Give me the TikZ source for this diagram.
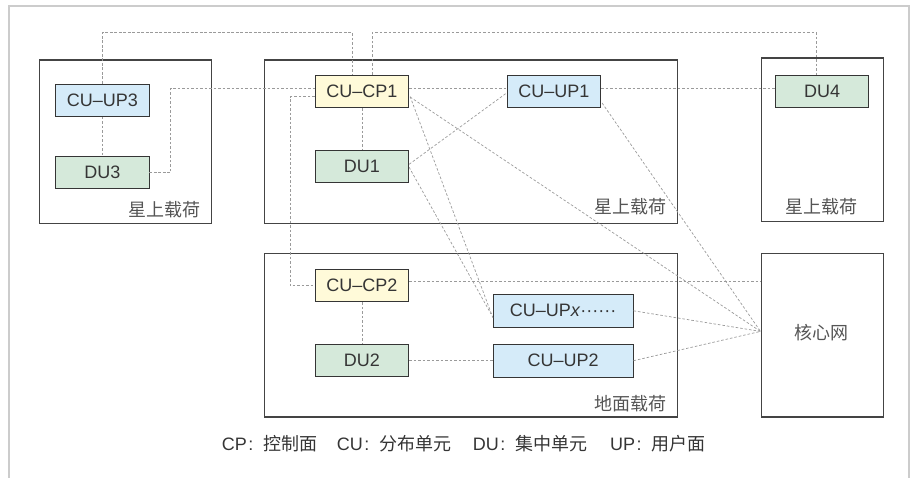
\documentclass[tikz,border=0pt]{standalone}
\usepackage{fontspec}
\setmainfont{Liberation Sans}
\newfontfamily\cjk{Noto Sans CJK SC}
\usetikzlibrary{calc}
\definecolor{upblue}{HTML}{D5EBF9}
\definecolor{cpyellow}{HTML}{FFFAD9}
\definecolor{dugreen}{HTML}{D5E9DA}
\definecolor{inktext}{HTML}{353535}
\definecolor{labeltext}{HTML}{555555}
\definecolor{linkgray}{HTML}{9A9A9A}
\definecolor{framegray}{HTML}{CCCCCC}
\newcommand{\legsep}{\hspace{1.5pt}:\hspace{10pt}}
\tikzset{
  unit/.style={draw=inktext, line width=0.9pt, minimum width=93.3pt, minimum height=32.3pt,
    inner sep=0pt, text=inktext, font=\fontsize{18}{20}\selectfont},
  upbox/.style={unit, fill=upblue},
  cpbox/.style={unit, fill=cpyellow},
  dubox/.style={unit, fill=dugreen},
  widebox/.style={upbox, minimum width=139.7pt, minimum height=33pt},
  payload/.style={draw=labeltext!80!black, line width=1.1pt, inner sep=0pt},
  payloadlabel/.style={text=labeltext, inner sep=0pt, font=\fontsize{18}{20}\selectfont\cjk},
  link/.style={draw=linkgray, line width=0.7pt, dash pattern=on 2.6pt off 1.9pt},
  legend/.style={text=inktext, inner sep=0pt, anchor=west, font=\fontsize{18}{20}\selectfont},
}
\begin{document}
\begin{tikzpicture}[x=1pt, y=-1pt]
  \useasboundingbox (0,0) rectangle (914,478);
  % outer frame, open at the bottom
  \draw[framegray, line width=1.3pt] (9,478) -- (9,6) -- (909,6) -- (909,478);

  % payload containers
  \node[payload, minimum width=171.6pt, minimum height=163.3pt] (sat1) at (125.5,141.7) {};
  \node[payload, minimum width=413.3pt, minimum height=163.3pt] (sat2) at (470.7,141.7) {};
  \node[payload, minimum width=122.3pt, minimum height=163.3pt] (sat3) at (822.2,139.7) {};
  \node[payload, minimum width=413.3pt, minimum height=163.3pt] (ground) at (470.7,335.4) {};
  \node[payload, minimum width=122.3pt, minimum height=163.3pt] (core) at (822.2,335.4) {};

  \node[payloadlabel, anchor=east] (sat1lbl) at (201,210) {星上载荷};
  \node[payloadlabel, anchor=east] (sat2lbl) at (666.7,206.7) {星上载荷};
  \node[payloadlabel] (sat3lbl) at (821.7,206.7) {星上载荷};
  \node[payloadlabel, anchor=east] (groundlbl) at (666.7,403.3) {地面载荷};
  \node[payloadlabel] (corelbl) at (821.7,333) {核心网};

  % functional units
  \node[upbox] (up3) at (102.3,100.2) {CU–UP3};
  \node[dubox] (du3) at (102.3,172.5) {DU3};
  \node[cpbox] (cp1) at (362,91.5) {CU–CP1};
  \node[dubox] (du1) at (362,166.7) {DU1};
  \node[upbox] (up1) at (554,91.5) {CU–UP1};
  \node[dubox] (du4) at (822.2,91.5) {DU4};
  \node[cpbox] (cp2) at (362,285.8) {CU–CP2};
  \node[dubox] (du2) at (362,360.7) {DU2};
  \node[widebox] (upx) at (563.2,310.8) {CU–UP\textit{x}······};
  \node[widebox] (up2) at (563.2,360.7) {CU–UP2};

  % routing points
  \coordinate (topline) at (0,32.7);
  \coordinate (cp1nl) at ($(cp1.north)+(-9.7,0)$);
  \coordinate (cp1nr) at ($(cp1.north)+(10.3,0)$);
  \coordinate (du4n) at ($(du4.north)+(-5.5,0)$);
  \coordinate (corein) at ($(core.west)+(0,-4)$);
  \coordinate (cp2e) at ($(cp2.east)+(0,-4.5)$);

  % links
  \draw[link] (up3.north) -- (up3.north |- topline) -| (cp1nl);
  \draw[link] (cp1nr) -- (cp1nr |- topline) -| (du4n);
  \draw[link] (du3.east) -- ++(21.3,0) |- ($(cp1.west)+(0,-3.2)$);
  \draw[link] ($(cp1.west)+(0,5.2)$) -| ($(cp2.west)+(-24.6,0)$) -- (cp2.west);
  \draw[link] ($(cp1.east)+(0,-3.2)$) -- ($(up1.west)+(0,-3.2)$);
  \draw[link] ($(up1.east)+(0,-3.2)$) -- ($(du4.west)+(0,-3.2)$);
  \draw[link] (up3.south) -- (du3.north);
  \draw[link] (cp1.south) -- (du1.north);
  \draw[link] (cp2.south) -- (du2.north);
  \draw[link] ($(du1.east)+(0,-2.4)$) -- ($(up1.west)+(-1,2)$);
  \draw[link] ($(du1.east)+(0,0.5)$) -- ($(upx.west)+(-2,3)$);
  \draw[link] ($(cp1.east)+(1,5)$) -- ($(upx.west)+(0,7)$);
  \draw[link] ($(cp1.east)+(1,5.5)$) -- (corein);
  \draw[link] ($(up1.east)+(1,11.5)$) -- (corein);
  \draw[link] (cp2e) -- (cp2e -| core.west);
  \draw[link] (upx.east) -- (corein);
  \draw[link] (up2.east) -- (corein);
  \draw[link] (du2.east) -- (up2.west);

  % legend
  \node[legend] (lgcp) at (221.7,444) {CP\legsep{\cjk 控制面}};
  \node[legend] (lgcu) at (336.7,444) {CU\legsep{\cjk 分布单元}};
  \node[legend] (lgdu) at (472.7,444) {DU\legsep{\cjk 集中单元}};
  \node[legend] (lgup) at (610,444) {UP\legsep{\cjk 用户面}};
\end{tikzpicture}
\end{document}
